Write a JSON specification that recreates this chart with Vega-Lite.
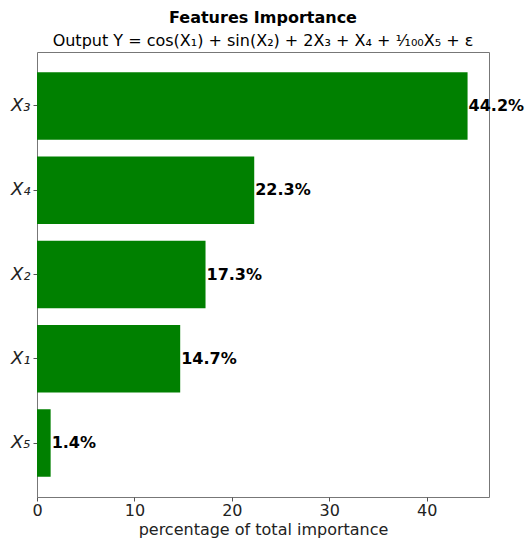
{
  "$schema": "https://vega.github.io/schema/vega-lite/v6.json",
  "width": 452,
  "height": 445,
  "autosize": {"type": "none"},
  "padding": {"left": 37, "top": 52, "right": 39, "bottom": 41},
  "background": "white",
  "title": {
    "text": "Features Importance",
    "subtitle": "Output Y = cos(X₁) + sin(X₂) + 2X₃ + X₄ + ¹⁄₁₀₀X₅ + ε",
    "anchor": "middle",
    "frame": "group",
    "font": "DejaVu Sans",
    "fontSize": 16,
    "fontWeight": "bold",
    "color": "black",
    "subtitleFont": "DejaVu Sans",
    "subtitleFontSize": 16,
    "subtitleColor": "black",
    "subtitlePadding": 7,
    "offset": 3
  },
  "config": {
    "view": {"stroke": "#777", "strokeWidth": 1},
    "font": "DejaVu Sans"
  },
  "data": {
    "values": [
      {"feature": "X₃", "importance": 44.2, "label": "44.2%"},
      {"feature": "X₄", "importance": 22.3, "label": "22.3%"},
      {"feature": "X₂", "importance": 17.3, "label": "17.3%"},
      {"feature": "X₁", "importance": 14.7, "label": "14.7%"},
      {"feature": "X₅", "importance": 1.4, "label": "1.4%"}
    ]
  },
  "encoding": {
    "y": {
      "field": "feature",
      "type": "nominal",
      "sort": null,
      "scale": {"paddingInner": 0.2, "paddingOuter": 0.24},
      "axis": {
        "title": null,
        "domain": false,
        "tickColor": "#555",
        "tickSize": 4,
        "labelPadding": 3,
        "labelFont": "DejaVu Sans",
        "labelFontStyle": "italic",
        "labelFontSize": 18,
        "labelColor": "#222"
      }
    },
    "x": {
      "field": "importance",
      "type": "quantitative",
      "scale": {"domain": [0, 46.4], "nice": false, "zero": true},
      "axis": {
        "title": "percentage of total importance",
        "values": [0, 10, 20, 30, 40],
        "grid": false,
        "domain": false,
        "labelFlush": false,
        "tickColor": "#555",
        "tickSize": 4,
        "labelPadding": 1,
        "labelFont": "DejaVu Sans",
        "labelFontSize": 16,
        "labelColor": "#222",
        "titleFont": "DejaVu Sans",
        "titleFontSize": 16,
        "titleFontWeight": "normal",
        "titleColor": "#222",
        "titlePadding": 3
      }
    }
  },
  "layer": [
    {"mark": {"type": "bar", "color": "#008000"}},
    {
      "mark": {
        "type": "text",
        "align": "left",
        "baseline": "middle",
        "dx": 1,
        "fontSize": 16,
        "fontWeight": "bold",
        "color": "black",
        "clip": false
      },
      "encoding": {"text": {"field": "label"}}
    }
  ]
}
